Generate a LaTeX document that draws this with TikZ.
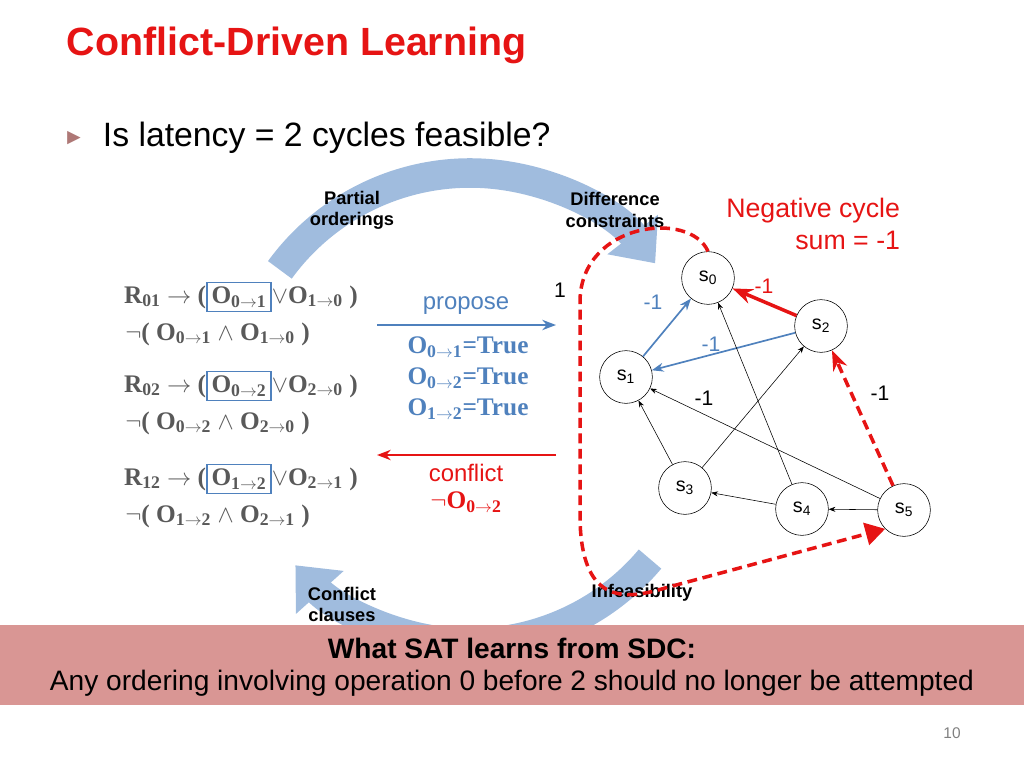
\documentclass[tikz,border=0pt]{standalone}
\usepackage{fontspec}
\setmainfont{Liberation Sans}
\newfontfamily\formfont{Liberation Serif}
\usetikzlibrary{arrows.meta}
\definecolor{titlered}{RGB}{230,20,20}
\definecolor{formgray}{RGB}{89,89,89}
\definecolor{propblue}{RGB}{79,129,189}
\definecolor{bandpink}{RGB}{217,150,148}
\definecolor{cycblue}{RGB}{160,188,222}
\newcommand{\op}[2]{O\textsubscript{#1$\rightarrow$#2}}
\tikzset{
  state/.style={circle, draw, minimum size=37.5pt, inner sep=0pt, font=\fontsize{14}{16}\selectfont},
  form/.style={font=\formfont\bfseries\fontsize{18}{20}\selectfont, text=formgray, inner sep=0pt},
  picked/.style={form, draw=propblue, line width=1.2pt, inner sep=3pt},
  wt/.style={font=\fontsize{15}{17}\selectfont},
  cyc/.style={line width=21pt, cycblue},
  reddash/.style={titlered, line width=2.5pt, dash pattern=on 7pt off 4pt},
  lab/.style={font=\bfseries\fontsize{13}{15}\selectfont, align=center}
}
\begin{document}
\begin{tikzpicture}[x=0.025cm, y=-0.025cm, >=Stealth]
    \useasboundingbox (0,0) rectangle (1024,768);
    % Title
    \node [anchor=west, text=titlered, font=\bfseries\fontsize{28}{32}\selectfont] (title) at (62,45) {Conflict-Driven Learning};
    \node [anchor=west, text=bandpink!80!black, font=\fontsize{16}{18}\selectfont] (bullet) at (58,138) {►};
    \node [anchor=west, font=\fontsize{24}{28}\selectfont] (question) at (98,138) {Is latency = 2 cycles feasible?};
    % Big cycle arrows
    \draw [cyc, -{Triangle[width=44pt,length=26pt]}] (470,408) ++(216:235) arc[start angle=216, end angle=322, radius=235];
    \draw [cyc, -{Triangle[width=44pt,length=26pt]}] (470,408) ++(40:235) arc[start angle=40, end angle=138, radius=235];
    \node [lab] (partial) at (352,210) {Partial\\orderings};
    \node [lab] (diff) at (615,210) {Difference\\constraints};
    \node [lab, anchor=north west] (clauses) at (303,582) {Conflict\\clauses};
    \node [lab] (infeas) at (642,593) {Infeasibility};
    \node [text=titlered, font=\fontsize{19}{23}\selectfont, align=right, anchor=north east] (negcyc) at (905,193) {Negative cycle\\sum = -1};
    % Clauses
    \foreach \i/\j/\y in {0/1/297, 0/2/386, 1/2/479} {
        \node [picked] (box\i\j) at (239,\y) {\op{\i}{\j}};
        \node [form, anchor=east] (pre\i\j) at (box\i\j.west) {R\textsubscript{\i\j} $\rightarrow$ (};
        \node [form, anchor=west] (post\i\j) at (box\i\j.east) {$\vee$\op{\j}{\i} )};
        \node [form, anchor=west] (neg\i\j) at (125,\y+37) {$\neg$( \op{\i}{\j} $\wedge$ \op{\j}{\i} )};
    }
    % Propose / conflict
    \coordinate (propL) at (377,325);
    \coordinate (propR) at (556,325);
    \draw [->, propblue, line width=1.5pt] (propL) -- (propR);
    \node [text=propblue, font=\fontsize{17}{19}\selectfont] (propose) at (466,306) {propose};
    \node [form, text=propblue, align=center] (assign) at (468,378) {\op{0}{1}=True\\[2pt]\op{0}{2}=True\\[2pt]\op{1}{2}=True};
    \coordinate (confR) at (556,455);
    \coordinate (confL) at (377,455);
    \draw [->, titlered, line width=1.5pt] (confR) -- (confL);
    \node [text=titlered, font=\fontsize{17}{19}\selectfont] (conflict) at (466,473) {conflict};
    \node [form, text=titlered] (negO) at (466,502) {$\neg$\op{0}{2}};
    % Constraint graph
    \node [state] (s0) at (708,278) {s\textsubscript{0}};
    \node [state] (s1) at (626,377) {s\textsubscript{1}};
    \node [state] (s2) at (821,326) {s\textsubscript{2}};
    \node [state] (s3) at (685,488) {s\textsubscript{3}};
    \node [state] (s4) at (802,509) {s\textsubscript{4}};
    \node [state] (s5) at (904,510) {s\textsubscript{5}};
    \draw [->, propblue, line width=1.2pt] (s1) -- (s0);
    \draw [->, propblue, line width=1.2pt] (s2) -- (s1);
    \draw [->, titlered, line width=2.5pt] (s2) -- (s0);
    \draw [->] (s3) -- (s1);
    \draw [->] (s3) -- (s2);
    \draw [->] (s4) -- (s0);
    \draw [->] (s4) -- (s3);
    \draw [->] (s5) -- (s4);
    \draw [->] (s5) -- (s1);
    \draw [->, reddash] (s5) -- (s2);
    \draw [reddash, -{Triangle[width=16pt,length=14pt]}]
        (s0.north) .. controls (690,210) and (582,222) .. (580,300) -- (580,520)
        .. controls (582,600) and (620,602) .. (665,588) -- (s5.south west);
    \node [wt] (w0) at (560,290) {1};
    \node [wt, text=propblue] (w1) at (653,302) {-1};
    \node [wt, text=titlered] (w2) at (764,286) {-1};
    \node [wt, text=propblue] (w3) at (711,344) {-1};
    \node [wt] (w4) at (704,398) {-1};
    \node [wt] (w5) at (880,393) {-1};
    % Bottom band
    \fill [bandpink] (0,625) rectangle (1024,705);
    \node [font=\bfseries\fontsize{20}{23}\selectfont] (learn) at (512,648) {What SAT learns from SDC:};
    \node [font=\fontsize{20}{23}\selectfont] (lesson) at (512,683) {Any ordering involving operation 0 before 2 should no longer be attempted};
    \node [text=gray, font=\fontsize{11}{13}\selectfont] (page) at (952,733) {10};
\end{tikzpicture}
\end{document}
